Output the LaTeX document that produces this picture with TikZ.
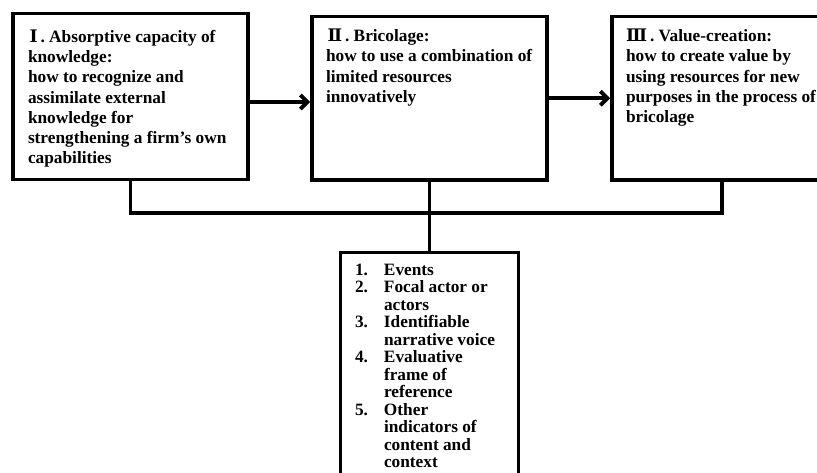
\documentclass[tikz,border=0pt]{standalone}
\usepackage{fontspec}
\setmainfont{Liberation Serif}
\newfontfamily\romfont{DejaVu Serif}
\usetikzlibrary{arrows.meta}
\newcommand{\boxtext}[3]{\parbox[c][#1][t]{#2}{\raggedright #3}}
\newcommand{\stagenum}[1]{{\romfont #1}\hspace{3pt}.\ }

\begin{document}
\begin{tikzpicture}[x = 1pt, y = 1pt,
        stage/.style = {draw, line width = 3.8pt, inner sep = 0pt},
        link/.style = {line width = 3.8pt},
        flow/.style = {line width = 3.8pt, -{Straight Barb[length = 7pt, width = 14pt]}},
        font = \fontsize{17.3}{20.3}\selectfont\bfseries]
        \clip (0,0) rectangle (817,473);
        \node[stage, minimum width = 235pt, minimum height = 166pt] (absorb) at (130.5,376.5)
            {\boxtext{134pt}{205pt}{\hspace*{1.5pt}\stagenum{Ⅰ}Absorptive capacity of\\ knowledge:\\ how to recognize and\\ assimilate external\\ knowledge for\\ strengthening a firm’s own\\ capabilities}};
        \node[stage, minimum width = 235pt, minimum height = 163.5pt] (bricolage) at (429.5,374.75)
            {\boxtext{138.5pt}{207pt}{\hspace*{1.5pt}\stagenum{Ⅱ}Bricolage:\\ how to use a combination of\\ limited resources\\ innovatively}};
        \node[stage, minimum width = 220pt, minimum height = 163.5pt] (value) at (722,374.75)
            {\boxtext{138.5pt}{192pt}{\stagenum{Ⅲ}Value-creation:\\ how to create value by\\ using resources for new\\ \mbox{purposes in the process of}\\ bricolage}};
        \node[stage, minimum width = 178pt, minimum height = 240pt] (story) at (429.5,100.5)
            {\parbox[c][218.5pt][t]{149pt}{\fontsize{17.3}{17.5}\selectfont
            \begin{tabular}{@{}p{29pt}@{}l@{}}
                1. & Events\\
                2. & Focal actor or\\
                   & actors\\
                3. & Identifiable\\
                   & narrative voice\\
                4. & Evaluative\\
                   & frame of\\
                   & reference\\
                5. & Other\\
                   & indicators of\\
                   & content and\\
                   & context
            \end{tabular}}};
        \coordinate (bus) at (0,260);
        \draw[flow] ([yshift = -5.5pt]absorb.east) -- ([yshift = -5.5pt]absorb.east -| bricolage.west);
        \draw[flow] (bricolage.east) -- (bricolage.east -| value.west);
        \draw[link] (absorb.south) -- (absorb.south |- bus) -- (value.south |- bus) -- (value.south);
        \draw[link] (bricolage.south) -- (story.north);
    \end{tikzpicture}
\end{document}
